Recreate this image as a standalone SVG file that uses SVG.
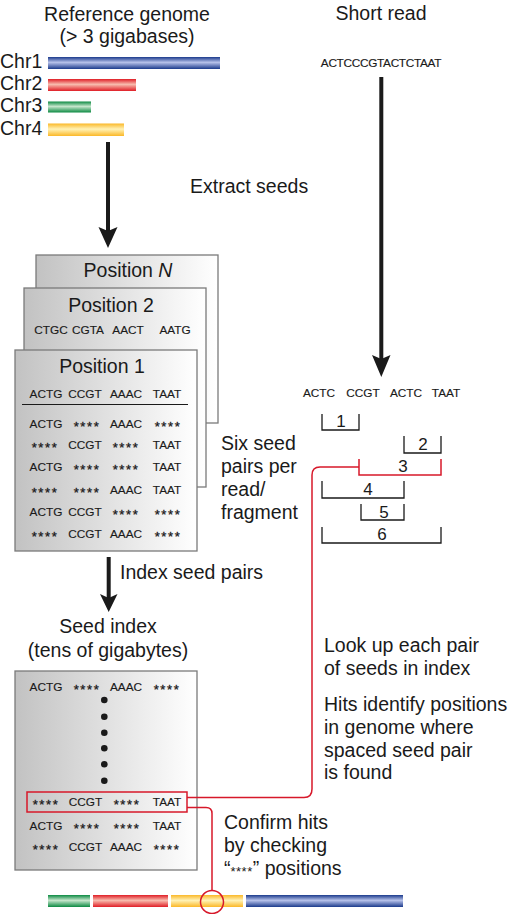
<svg xmlns="http://www.w3.org/2000/svg" width="515" height="914" viewBox="0 0 515 914">
<defs>
<linearGradient id="boxg" x1="0" y1="0" x2="1" y2="0"><stop offset="0" stop-color="#c2c2c2"/><stop offset="1" stop-color="#ffffff"/></linearGradient>
<linearGradient id="gBlue" x1="0" y1="0" x2="0" y2="1"><stop offset="0" stop-color="#1b3a8c"/><stop offset="0.45" stop-color="#b7c2ea"/><stop offset="1" stop-color="#1b3a8c"/></linearGradient>
<linearGradient id="gRed" x1="0" y1="0" x2="0" y2="1"><stop offset="0" stop-color="#e01e26"/><stop offset="0.45" stop-color="#f8bcae"/><stop offset="1" stop-color="#e01e26"/></linearGradient>
<linearGradient id="gGreen" x1="0" y1="0" x2="0" y2="1"><stop offset="0" stop-color="#0c8a42"/><stop offset="0.45" stop-color="#c6e6cc"/><stop offset="1" stop-color="#0c8a42"/></linearGradient>
<linearGradient id="gYellow" x1="0" y1="0" x2="0" y2="1"><stop offset="0" stop-color="#fbb828"/><stop offset="0.45" stop-color="#fff2b6"/><stop offset="1" stop-color="#fbb828"/></linearGradient>
</defs>
<style>
.t{font-family:"Liberation Sans",Arial,Helvetica,sans-serif;fill:#1a1a1a}
.big{font-size:19.5px}
.sm{font-size:11.8px;stroke:#1a1a1a;stroke-width:0.15px}
.st{font-size:13px;letter-spacing:1.6px;stroke:#1a1a1a;stroke-width:0.3px}
.num{font-size:17px;text-anchor:middle}
.mid{text-anchor:middle}
.box{stroke:#7a7a7a;stroke-width:1.3;fill:url(#boxg)}
.br{fill:none;stroke:#1a1a1a;stroke-width:1.3}
.red{fill:none;stroke:#d7182a;stroke-width:1.5}
.arr{fill:#1a1a1a}
</style>

<g id="genome">
<text class="t big mid" x="127" y="21">Reference genome</text>
<text class="t big mid" x="127" y="43">(&gt; 3 gigabases)</text>
<text class="t big" x="0" y="68">Chr1</text>
<text class="t big" x="0" y="90">Chr2</text>
<text class="t big" x="0" y="112">Chr3</text>
<text class="t big" x="0" y="135">Chr4</text>
<rect x="48" y="57" width="172" height="12" fill="url(#gBlue)"/>
<rect x="48" y="79" width="88" height="12" fill="url(#gRed)"/>
<rect x="48" y="101.5" width="43" height="11" fill="url(#gGreen)"/>
<rect x="48" y="123.5" width="76" height="12.5" fill="url(#gYellow)"/>
</g>

<g id="shortread">
<text class="t big mid" x="381" y="20">Short read</text>
<text class="t sm mid" x="381" y="67" letter-spacing="-0.3">ACTCCCGTACTCTAAT</text>
</g>

<g id="extract-label"><text class="t big" x="190" y="193">Extract seeds</text></g>

<g id="positionN">
<rect class="box" x="36" y="255" width="182" height="168"/>
<text class="t big mid" x="128" y="277">Position <tspan font-style="italic">N</tspan></text>
</g>
<g id="position2">
<rect class="box" x="24" y="288" width="182" height="199"/>
<text class="t big mid" x="111" y="312">Position 2</text>
<text class="t sm mid" x="51" y="334">CTGC</text>
<text class="t sm mid" x="88" y="334">CGTA</text>
<text class="t sm mid" x="128" y="334">AACT</text>
<text class="t sm mid" x="175" y="334">AATG</text>
</g>
<g id="position1">
<rect class="box" x="15" y="350" width="182" height="201"/>
<text class="t big mid" x="102" y="373">Position 1</text>
<text class="t sm mid" x="46" y="398">ACTG</text>
<text class="t sm mid" x="85" y="398">CCGT</text>
<text class="t sm mid" x="126" y="398">AAAC</text>
<text class="t sm mid" x="167" y="398">TAAT</text>
<line x1="22" y1="404.5" x2="188" y2="404.5" stroke="#1a1a1a" stroke-width="1"/>
<text class="t sm mid" x="46" y="427.5">ACTG</text>
<text class="t st mid" x="87" y="430.5">****</text>
<text class="t sm mid" x="126" y="427.5">AAAC</text>
<text class="t st mid" x="168" y="430.5">****</text>
<text class="t st mid" x="45" y="452.2">****</text>
<text class="t sm mid" x="85" y="449.2">CCGT</text>
<text class="t st mid" x="126" y="452.2">****</text>
<text class="t sm mid" x="167" y="449.2">TAAT</text>
<text class="t sm mid" x="46" y="471">ACTG</text>
<text class="t st mid" x="87" y="474">****</text>
<text class="t st mid" x="126" y="474">****</text>
<text class="t sm mid" x="167" y="471">TAAT</text>
<text class="t st mid" x="45" y="496.5">****</text>
<text class="t st mid" x="87" y="496.5">****</text>
<text class="t sm mid" x="126" y="493.5">AAAC</text>
<text class="t sm mid" x="167" y="493.5">TAAT</text>
<text class="t sm mid" x="46" y="516">ACTG</text>
<text class="t sm mid" x="85" y="516">CCGT</text>
<text class="t st mid" x="126" y="519">****</text>
<text class="t st mid" x="168" y="519">****</text>
<text class="t st mid" x="45" y="540.5">****</text>
<text class="t sm mid" x="85" y="537.5">CCGT</text>
<text class="t sm mid" x="126" y="537.5">AAAC</text>
<text class="t st mid" x="168" y="540.5">****</text>
</g>

<g id="six-label">
<text class="t big" x="221" y="450">Six seed</text>
<text class="t big" x="221" y="473">pairs per</text>
<text class="t big" x="221" y="496">read/</text>
<text class="t big" x="221" y="519">fragment</text>
</g>

<g id="seeds">
<text class="t sm mid" x="319" y="397">ACTC</text>
<text class="t sm mid" x="363" y="397">CCGT</text>
<text class="t sm mid" x="406" y="397">ACTC</text>
<text class="t sm mid" x="446" y="397">TAAT</text>
<path class="br" d="M322,414V430H359V414"/><text class="t num" x="341" y="427">1</text>
<path class="br" d="M404,436V453H441V436"/><text class="t num" x="423" y="450">2</text>
<path class="red" d="M359,459V475H441V459"/><text class="t num" x="403" y="472">3</text>
<path class="br" d="M322,481V498H404V481"/><text class="t num" x="368" y="495">4</text>
<path class="br" d="M361,504V520H404V504"/><text class="t num" x="384" y="518">5</text>
<path class="br" d="M322,527V543H441V527"/><text class="t num" x="382" y="540">6</text>
</g>

<g id="index-label"><text class="t big" x="120" y="579">Index seed pairs</text></g>

<g id="seedindex">
<text class="t big mid" x="108" y="633">Seed index</text>
<text class="t big mid" x="108" y="657">(tens of gigabytes)</text>
<rect class="box" x="15" y="671" width="182" height="199"/>
<text class="t sm mid" x="46" y="691">ACTG</text>
<text class="t st mid" x="87" y="694">****</text>
<text class="t sm mid" x="126" y="691">AAAC</text>
<text class="t st mid" x="167" y="694">****</text>
<g fill="#1a1a1a">
<circle cx="104.3" cy="700" r="3.3"/><circle cx="104.3" cy="716.7" r="3.3"/><circle cx="104.3" cy="732.7" r="3.3"/>
<circle cx="104.3" cy="748.3" r="3.3"/><circle cx="104.3" cy="764.3" r="3.3"/><circle cx="104.3" cy="780.7" r="3.3"/>
</g>
<text class="t st mid" x="46" y="809">****</text>
<text class="t sm mid" x="85.5" y="806">CCGT</text>
<text class="t st mid" x="127" y="809">****</text>
<text class="t sm mid" x="167" y="806">TAAT</text>
<rect class="red" x="27" y="792" width="160" height="20"/>
<text class="t sm mid" x="46" y="830">ACTG</text>
<text class="t st mid" x="87" y="833">****</text>
<text class="t st mid" x="127" y="833">****</text>
<text class="t sm mid" x="167" y="830">TAAT</text>
<text class="t st mid" x="46" y="854">****</text>
<text class="t sm mid" x="85.5" y="851">CCGT</text>
<text class="t sm mid" x="126" y="851">AAAC</text>
<text class="t st mid" x="167" y="854">****</text>
</g>

<g id="lookup-label">
<text class="t big" x="324" y="652">Look up each pair</text>
<text class="t big" x="324" y="675">of seeds in index</text>
<text class="t big" x="324" y="711">Hits identify positions</text>
<text class="t big" x="324" y="734">in genome where</text>
<text class="t big" x="324" y="757">spaced seed pair</text>
<text class="t big" x="324" y="779">is found</text>
</g>

<g id="confirm-label">
<text class="t big" x="224" y="829">Confirm hits</text>
<text class="t big" x="224" y="852">by checking</text>
<text class="t big" x="224" y="875">“<tspan font-size="13" dy="1" letter-spacing="0.5">****</tspan><tspan dy="-1">” positions</tspan></text>
</g>

<g id="genome-bottom">
<rect x="48" y="895" width="42" height="12" fill="url(#gGreen)"/>
<rect x="93" y="895" width="75" height="12" fill="url(#gRed)"/>
<rect x="171" y="895" width="72" height="12" fill="url(#gYellow)"/>
<rect x="246" y="895" width="157" height="12" fill="url(#gBlue)"/>
</g>

<g id="connectors">
<rect class="arr" x="106" y="142" width="4" height="90"/>
<polygon class="arr" points="98.5,227 108,231 117.5,227 108,248"/>
<rect class="arr" x="379.3" y="77" width="4" height="283"/>
<polygon class="arr" points="372,355 381.3,359 390.5,355 381.3,377"/>
<rect class="arr" x="106.7" y="557" width="4" height="42"/>
<polygon class="arr" points="100,594 108.7,598 117.5,594 108.7,612"/>
<path class="red" d="M359,467H320Q312,467 312,475V789Q312,797.5 304,797.5H187"/>
<path class="red" d="M187,807.5H206Q212,807.5 212,813.5V890.5"/>
<circle class="red" cx="212" cy="902" r="11.5"/>
</g>
</svg>
